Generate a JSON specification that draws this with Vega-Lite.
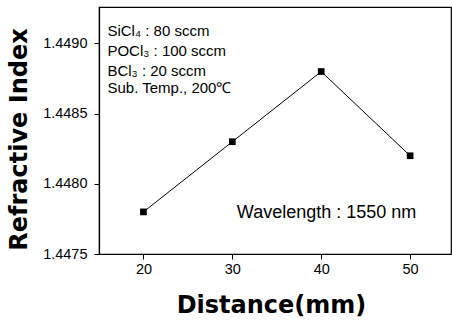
{
  "$schema": "https://vega.github.io/schema/vega-lite/v6.json",
  "width": 352,
  "height": 247,
  "autosize": {"type": "none"},
  "padding": {"left": 99, "top": 7, "right": 1, "bottom": 67},
  "background": "white",
  "config": {
    "view": {"stroke": "black", "strokeWidth": 1.2},
    "font": "Liberation Sans"
  },
  "datasets": {
    "points": [
      {"distance": 20, "ri": 1.4478},
      {"distance": 30, "ri": 1.4483},
      {"distance": 40, "ri": 1.4488},
      {"distance": 50, "ri": 1.4482}
    ],
    "notes": [
      {"x": 15.95, "y": 1.449086, "label": "SiCl₄ : 80 sccm"},
      {"x": 15.95, "y": 1.448950, "label": "POCl₃ : 100 sccm"},
      {"x": 15.95, "y": 1.448807, "label": "BCl₃ : 20 sccm"},
      {"x": 15.95, "y": 1.448680, "label": "Sub. Temp., 200℃"}
    ],
    "wave": [
      {"x": 40.6, "y": 1.44779, "label": "Wavelength : 1550 nm"}
    ]
  },
  "layer": [
    {
      "data": {"name": "points"},
      "mark": {"type": "line", "color": "black", "strokeWidth": 1},
      "encoding": {
        "x": {
          "field": "distance", "type": "quantitative",
          "scale": {"domain": [15, 54.6], "nice": false, "zero": false},
          "axis": {
            "values": [20, 30, 40, 50],
            "title": "Distance(mm)",
            "titleFont": "DejaVu Sans", "titleFontWeight": "bold", "titleFontSize": 24,
            "titleColor": "black", "titleBaseline": "alphabetic",
            "titleX": 172, "titleY": 58,
            "labelFont": "Liberation Sans", "labelFontSize": 14.5, "labelColor": "black",
            "labelPadding": 3,
            "tickSize": 5, "tickColor": "black", "domainColor": "black", "domainWidth": 1.2,
            "grid": false
          }
        },
        "y": {
          "field": "ri", "type": "quantitative",
          "scale": {"domain": [1.4475, 1.44926], "nice": false, "zero": false},
          "axis": {
            "values": [1.4475, 1.448, 1.4485, 1.449],
            "format": ".4f",
            "title": "Refractive Index",
            "titleFont": "DejaVu Sans", "titleFontWeight": "bold", "titleFontSize": 24,
            "titleColor": "black", "titleBaseline": "alphabetic", "titleAngle": -90,
            "titleX": -73, "titleY": 132,
            "labelFont": "Liberation Sans", "labelFontSize": 14.5, "labelColor": "black",
            "labelPadding": 7,
            "tickSize": 5, "tickColor": "black", "domainColor": "black", "domainWidth": 1.2,
            "grid": false
          }
        }
      }
    },
    {
      "data": {"name": "points"},
      "mark": {"type": "square", "color": "black", "filled": true, "opacity": 1, "size": 45},
      "encoding": {
        "x": {"field": "distance", "type": "quantitative"},
        "y": {"field": "ri", "type": "quantitative"}
      }
    },
    {
      "data": {"name": "notes"},
      "mark": {"type": "text", "align": "left", "baseline": "middle", "fontSize": 15, "color": "black", "font": "Liberation Sans"},
      "encoding": {
        "x": {"field": "x", "type": "quantitative"},
        "y": {"field": "y", "type": "quantitative"},
        "text": {"field": "label"}
      }
    },
    {
      "data": {"name": "wave"},
      "mark": {"type": "text", "align": "center", "baseline": "middle", "fontSize": 18, "color": "black", "font": "Liberation Sans"},
      "encoding": {
        "x": {"field": "x", "type": "quantitative"},
        "y": {"field": "y", "type": "quantitative"},
        "text": {"field": "label"}
      }
    }
  ]
}
